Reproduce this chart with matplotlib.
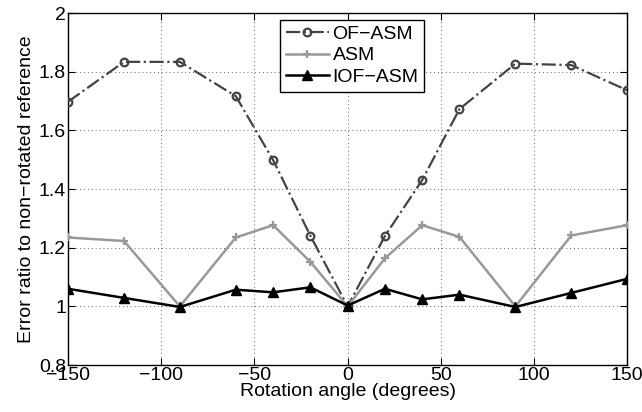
import matplotlib
matplotlib.use("Agg")
import matplotlib.pyplot as plt

plt.rcParams['font.family'] = ['Liberation Sans', 'DejaVu Sans']

angles = [-150, -120, -90, -60, -40, -20, 0, 20, 40, 60, 90, 120, 150]
of_asm = [1.698, 1.834, 1.834, 1.717, 1.499, 1.241, 1.0, 1.240, 1.431, 1.673, 1.828, 1.823, 1.737]
asm = [1.235, 1.223, 1.0, 1.235, 1.277, 1.152, 1.0, 1.164, 1.277, 1.237, 1.0, 1.242, 1.277]
iof_asm = [1.060, 1.029, 0.998, 1.057, 1.048, 1.065, 1.003, 1.060, 1.024, 1.040, 0.998, 1.046, 1.094]

xticks = [-150, -100, -50, 0, 50, 100, 150]
yticks = [0.8, 1.0, 1.2, 1.4, 1.6, 1.8, 2.0]
ytick_labels = ['0.8', '1', '1.2', '1.4', '1.6', '1.8', '2']

fig = plt.figure(figsize=(6.42, 4.12), dpi=100)
ax = fig.add_axes([0.106, 0.114, 0.871, 0.854])

ax.plot(angles, of_asm, color='#444444', linestyle='-.', linewidth=1.6,
        marker='o', markersize=5.5, markerfacecolor='none', markeredgewidth=1.6,
        label='OF\u2212ASM', zorder=3)
ax.plot(angles, asm, color='#999999', linestyle='-', linewidth=1.8,
        marker='+', markersize=6, markeredgewidth=1.6, label='ASM', zorder=3)
ax.plot(angles, iof_asm, color='black', linestyle='-', linewidth=1.8,
        marker='^', markersize=7, markerfacecolor='black', label='IOF\u2212ASM', zorder=4)

ax.set_xlim(-150, 150)
ax.set_ylim(0.8, 2.0)
ax.set_xticks(xticks)
ax.set_xticklabels([str(t).replace('-', '\u2212') for t in xticks])
ax.set_yticks(yticks)
ax.set_yticklabels(ytick_labels)
ax.tick_params(direction='in', top=True, right=True, labelsize=14, length=5, pad=1.5)
ax.grid(True, linestyle=(0, (1, 3)), color='#666666', linewidth=0.7)
for s in ax.spines.values():
    s.set_linewidth(1.0)

ax.set_xlabel('Rotation angle (degrees)', fontsize=14, labelpad=-1)
ax.set_ylabel('Error ratio to non\u2212rotated reference', fontsize=14, labelpad=3)

leg = ax.legend(loc='upper left', bbox_to_anchor=(0.379, 0.982), fontsize=14,
                frameon=True, fancybox=False, edgecolor='black', framealpha=1,
                handlelength=2.2, handletextpad=0.2, borderpad=0.3, labelspacing=0.2,
                borderaxespad=0)
leg.get_frame().set_linewidth(1.0)

fig.savefig('out.png', dpi=100)
